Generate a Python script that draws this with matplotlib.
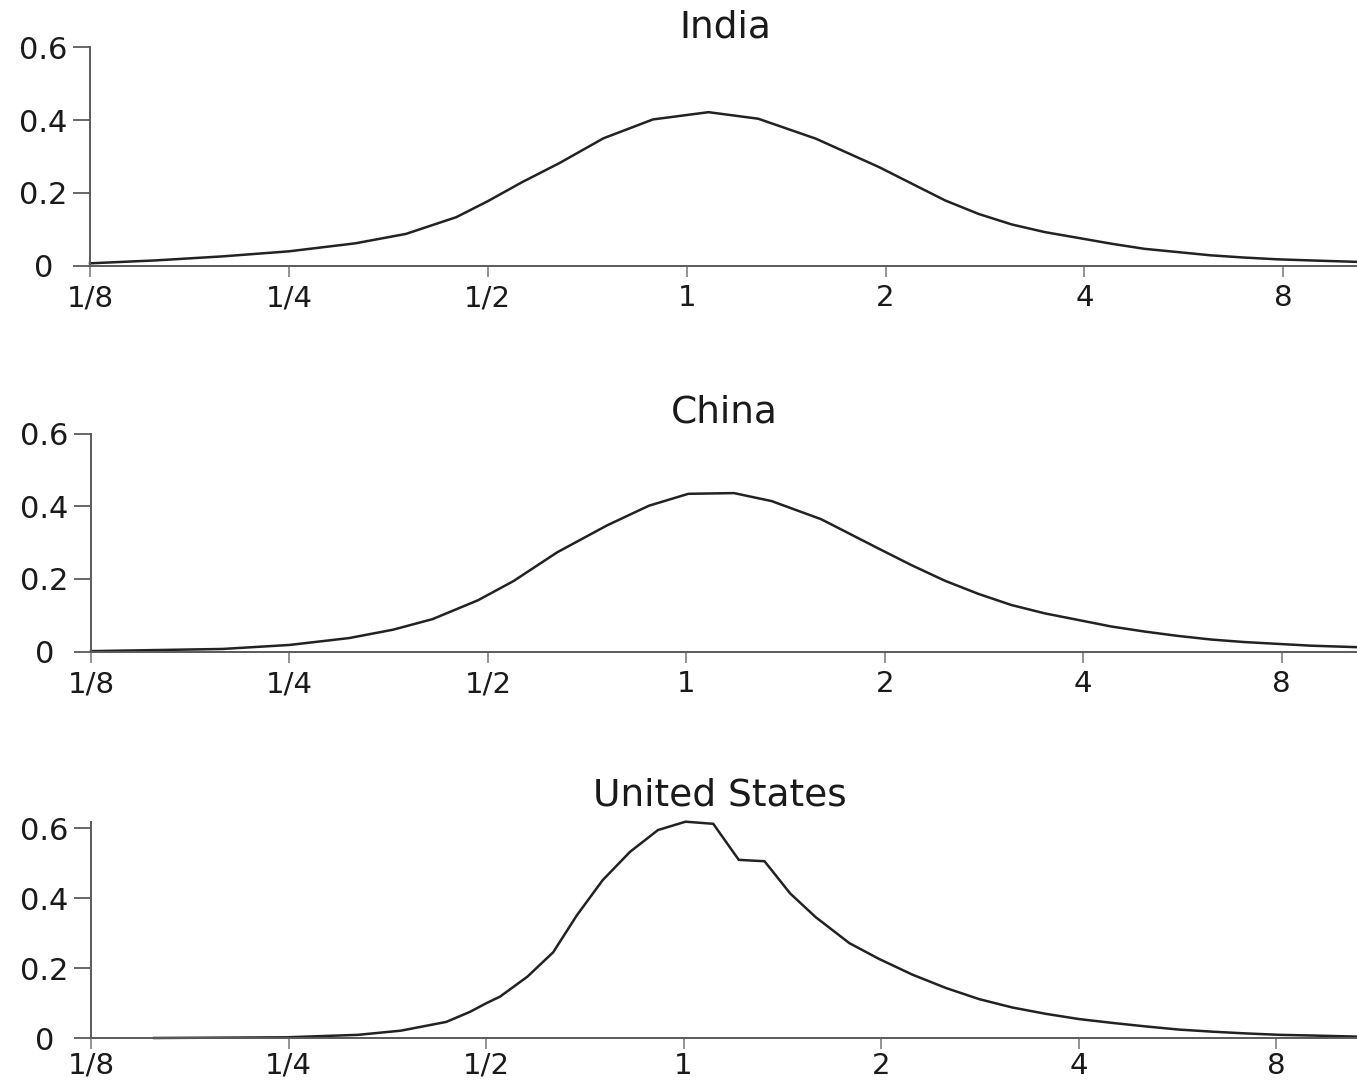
import matplotlib
matplotlib.use("Agg")
import matplotlib.pyplot as plt
from matplotlib.ticker import FixedLocator, FixedFormatter, NullLocator

plt.rcParams['font.family'] = ['DejaVu Sans']

# Income relative to the national mean (log2 axis) and density
india_x = [0.125, 0.157, 0.198, 0.250, 0.315, 0.376, 0.448, 0.500, 0.563, 0.642,
           0.748, 0.889, 1.079, 1.283, 1.569, 1.954, 2.193, 2.462, 2.765, 3.104,
           3.482, 3.912, 4.392, 4.925, 5.533, 6.211, 6.964, 7.835, 8.784, 10.34]
india_y = [0.006, 0.014, 0.025, 0.039, 0.061, 0.087, 0.133, 0.177, 0.229, 0.282,
           0.350, 0.402, 0.422, 0.404, 0.349, 0.271, 0.225, 0.179, 0.142, 0.113,
           0.092, 0.076, 0.060, 0.046, 0.037, 0.028, 0.022, 0.017, 0.014, 0.010]

china_x = [0.125, 0.198, 0.250, 0.308, 0.359, 0.412, 0.483, 0.547, 0.637, 0.758,
           0.877, 1.007, 1.181, 1.347, 1.602, 1.954, 2.194, 2.466, 2.770, 3.112,
           3.497, 3.926, 4.407, 4.952, 5.564, 6.250, 7.022, 7.890, 8.865, 10.38]
china_y = [0.001, 0.007, 0.018, 0.037, 0.060, 0.089, 0.141, 0.194, 0.273, 0.347,
           0.401, 0.434, 0.436, 0.414, 0.364, 0.284, 0.238, 0.195, 0.159, 0.128,
           0.105, 0.087, 0.069, 0.055, 0.043, 0.033, 0.026, 0.021, 0.016, 0.012]

us_x = [0.156, 0.248, 0.319, 0.371, 0.435, 0.473, 0.500, 0.525, 0.578, 0.633,
        0.688, 0.753, 0.829, 0.914, 1.007, 1.110, 1.214, 1.329, 1.454, 1.591,
        1.790, 1.986, 2.233, 2.511, 2.823, 3.174, 3.568, 4.011, 4.509, 5.070,
        5.696, 6.409, 7.210, 8.112, 9.126, 10.63]
us_y = [0.000, 0.002, 0.009, 0.021, 0.046, 0.075, 0.099, 0.118, 0.175, 0.245,
        0.351, 0.451, 0.532, 0.594, 0.618, 0.612, 0.509, 0.505, 0.413, 0.345,
        0.271, 0.226, 0.181, 0.143, 0.111, 0.087, 0.069, 0.054, 0.043, 0.033,
        0.024, 0.018, 0.013, 0.009, 0.007, 0.004]

titles = ["India", "China", "United States"]
x_ticks = [0.125, 0.25, 0.5, 1, 2, 4, 8]
x_tick_labels = ["1/8", "1/4", "1/2", "1", "2", "4", "8"]
y_ticks = [0, 0.2, 0.4, 0.6]
y_tick_labels = ["0", "0.2", "0.4", "0.6"]

W, H = 1357, 1080
fig = plt.figure(figsize=(W / 100, H / 100), dpi=100)

# panel layout in pixels: left, top, bottom, x right limit, y top limit,
# title centre x, title baseline y, x tick label pad (pt)
panels = [
    (90, 47.5, 265.5, 10.34, 0.600, 725.5, 37, 5.5),
    (91, 433.5, 651.5, 10.41, 0.600, 724.5, 423, 5.5),
    (91, 821.7, 1038.0, 10.63, 0.618, 719.5, 806, 2.0),
]
series = [(india_x, india_y), (china_x, china_y), (us_x, us_y)]

line_col = "#222222"
axis_col = "#5a5a5a"
text_col = "#1a1a1a"

for (left, top, bottom, xr, ytop, tx, ty, xpad), (xs, ys), title in zip(panels, series, titles):
    ax = fig.add_axes([left / W, 1 - bottom / H, 1 - left / W, (bottom - top) / H])
    ax.plot(xs, ys, color=line_col, lw=1.8, solid_joinstyle="miter", clip_on=False)
    ax.set_xscale("log", base=2)
    ax.set_xlim(0.125, xr)
    ax.set_ylim(0, ytop)
    ax.xaxis.set_major_locator(FixedLocator(x_ticks))
    ax.xaxis.set_major_formatter(FixedFormatter(x_tick_labels))
    ax.xaxis.set_minor_locator(NullLocator())
    ax.yaxis.set_major_locator(FixedLocator(y_ticks))
    ax.yaxis.set_major_formatter(FixedFormatter(y_tick_labels))
    for s in ("top", "right"):
        ax.spines[s].set_visible(False)
    for s in ("left", "bottom"):
        ax.spines[s].set_color(axis_col)
        ax.spines[s].set_linewidth(1.4)
    ax.tick_params(axis="x", direction="out", length=8, width=1.3, color="#8a8a8a",
                   pad=xpad, labelsize=21, labelcolor=text_col)
    ax.tick_params(axis="y", direction="out", length=12, width=1.3, color=axis_col,
                   pad=21.5, labelsize=22, labelcolor=text_col)
    for lab in ax.get_yticklabels():
        lab.set_horizontalalignment("center")
    fig.text(tx / W, 1 - ty / H, title, ha="center", va="baseline",
             fontsize=27, color=text_col)

fig.savefig("out.png", dpi=100, facecolor="white")
